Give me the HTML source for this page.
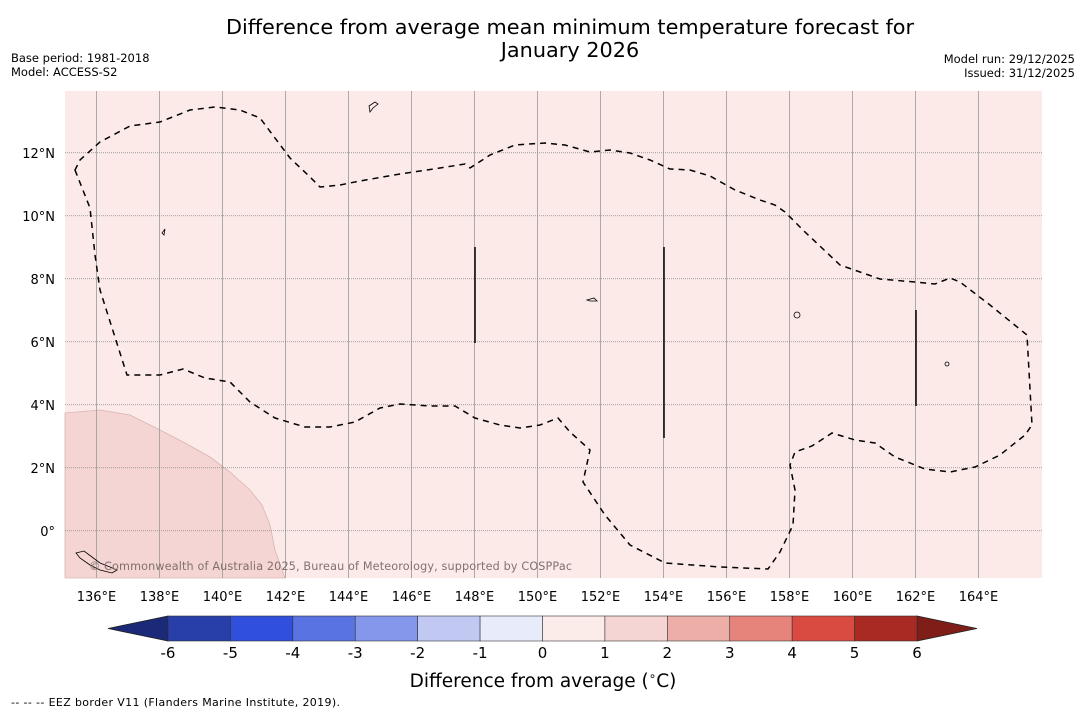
<!DOCTYPE html>
<html><head><meta charset="utf-8"><style>
body{margin:0;background:#fff;font-family:"DejaVu Sans","Liberation Sans",sans-serif;}
svg text{font-family:"DejaVu Sans","Liberation Sans",sans-serif;}
</style></head><body>
<svg id="chart" width="1085" height="713" viewBox="0 0 1085 713">
<text x="570" y="34" text-anchor="middle" font-size="20.8">Difference from average mean minimum temperature forecast for</text>
<text x="570" y="57" text-anchor="middle" font-size="20.8">January 2026</text>
<text x="11" y="62" font-size="11.5">Base period: 1981-2018</text>
<text x="11" y="76" font-size="11.5">Model: ACCESS-S2</text>
<text x="1075" y="63" font-size="11.5" text-anchor="end">Model run: 29/12/2025</text>
<text x="1075" y="77" font-size="11.5" text-anchor="end">Issued: 31/12/2025</text>
<g id="map">
<rect x="65" y="91" width="977" height="487" fill="#fbeae8"/>
<path d="M65,413 L100,410 L130,415 L160,430 L185,443 L210,457 L230,472 L250,490 L262,505 L270,525 L275,550 L285,578 L65,578 Z" fill="#f4d5d3" stroke="#d8b5b3" stroke-width="0.8"/>
<g id="grid"></g>
<path d="M75,170 L90,208 L95,255 L100,290 L127,375 L160,375 L183,369 L205,378 L230,382 L250,402 L275,418 L305,427 L330,427 L355,422 L380,408 L400,404 L430,406 L455,406 L475,418 L500,425 L520,428 L540,425 L558,418 L570,432 L590,450 L583,482 L605,515 L630,545 L665,563 L720,567 L768,569 L780,552 L793,525 L795,490 L790,465 L795,452 L812,446 L832,433 L855,440 L875,443 L895,457 L925,469 L950,472 L975,467 L1000,455 L1025,435 L1032,425 L1027,335 L990,305 L960,282 L950,278 L935,284 L915,282 L880,279 L840,265 L805,232 L785,212 L775,205 L760,200 L735,190 L710,176 L690,170 L670,169 L650,160 L630,153 L610,150 L590,152 L565,145 L545,143 L515,145 L490,155 L470,168 L465,164 L440,168 L400,174 L360,181 L340,185 L320,187 L310,177 L290,158 L260,118 L240,110 L215,107 L190,110 L160,122 L130,126 L100,142 L80,160 Z" fill="none" stroke="#000" stroke-width="1.5" stroke-dasharray="6,5"/>
<line x1="475" y1="247" x2="475" y2="343" stroke="#000" stroke-width="1.5"/>
<line x1="664" y1="247" x2="664" y2="438" stroke="#000" stroke-width="1.5"/>
<line x1="916" y1="310" x2="916" y2="406" stroke="#000" stroke-width="1.5"/>
<path d="M370,112 L369,106 L375,102 L378,104 L373,108 Z" fill="none" stroke="#000" stroke-width="0.8"/>
<path d="M76,553 L84,551 L92,557 L100,563 L110,567 L117,570 L112,573 L100,570 L90,565 L80,558 Z" fill="none" stroke="#000" stroke-width="0.8"/>
<path d="M587,300 L594,298 L597,301 L590,301 Z" fill="none" stroke="#000" stroke-width="0.8"/>
<circle cx="797" cy="315" r="3" fill="none" stroke="#000" stroke-width="0.8"/>
<circle cx="947" cy="364" r="2" fill="none" stroke="#000" stroke-width="0.8"/>
<path d="M162,233 L165,229 L164,235 Z" fill="none" stroke="#000" stroke-width="0.8"/>
<text x="89" y="570" font-size="11.2" fill="#807070" textLength="483">© Commonwealth of Australia 2025, Bureau of Meteorology, supported by COSPPac</text>
</g>
<g id="xticks"></g>
<g id="yticks"></g>
<g id="cbar"></g>
<text x="543" y="687" text-anchor="middle" font-size="18.5">Difference from average (<tspan font-size="12" dy="-7">∘</tspan><tspan dy="7">C)</tspan></text>
<text x="11" y="706" font-size="11" textLength="329">--  --  -- EEZ border V11 (Flanders Marine Institute, 2019).</text>
</svg>
<script>
const lonTicks=[136,138,140,142,144,146,148,150,152,154,156,158,160,162,164];
const latTicks=[0,2,4,6,8,10,12];
const cbarTicks=[-6,-5,-4,-3,-2,-1,0,1,2,3,4,5,6];
const cbarColors=["#283ea8","#2f4fdc","#5a73e2","#8497ea","#c1c9f3","#e8ebf9","#fbebe9","#f4d5d3","#edaea7","#e6847c","#d94b40","#a82a23"];
const extLow="#1b2a78", extHigh="#7f1e18";
const NS="http://www.w3.org/2000/svg";
const X0=65,X1=1042,Y0=91,Y1=578;
function xLon(l){return X0+(l-135)*31.5;}
function yLat(l){return Y1-(l+1.5)*31.5;}
function cx(v){return 168+(v+6)*(917-168)/12;}
function mk(t,a,p){const e=document.createElementNS(NS,t);for(const k in a)e.setAttribute(k,a[k]);p.appendChild(e);return e;}
const grid=document.getElementById('grid'),xt=document.getElementById('xticks'),yt=document.getElementById('yticks'),cb=document.getElementById('cbar');
lonTicks.forEach(l=>{const x=xLon(l);
 const g=mk('line',{x1:x,x2:x,y1:Y0,y2:Y1,stroke:'#999','stroke-width':0.8},grid);
 
 
 const t=mk('text',{x:x,y:601,'text-anchor':'middle','font-size':13},xt);t.textContent=l+'°E';
 
 });
latTicks.forEach(l=>{const y=yLat(l);
 const g=mk('line',{x1:X0,x2:X1,y1:y,y2:y,stroke:'#888','stroke-width':0.8,'stroke-dasharray':'1,1'},grid);
 
 
 const t=mk('text',{x:55,y:y+5,'text-anchor':'end','font-size':13},yt);t.textContent=l===0?'0°':l+'°N';
 
 });
const cy0=616,cy1=641;
const lt=mk('polygon',{points:`108,${(cy0+cy1)/2} ${cx(-6)},${cy0} ${cx(-6)},${cy1}`,fill:extLow,stroke:'#222','stroke-width':0.8},cb);


const rt=mk('polygon',{points:`977,${(cy0+cy1)/2} ${cx(6)},${cy0} ${cx(6)},${cy1}`,fill:extHigh,stroke:'#222','stroke-width':0.8},cb);


cbarColors.forEach((c,i)=>{const v=cbarTicks[i];
 const r=mk('rect',{x:cx(v),y:cy0,width:cx(cbarTicks[i+1])-cx(v),height:cy1-cy0,fill:c,stroke:'#333','stroke-width':0.6},cb);
 
 });
cbarTicks.forEach(v=>{const t=mk('text',{x:cx(v),y:658,'text-anchor':'middle','font-size':15},cb);t.textContent=v;
 
 });
</script>
</body></html>
